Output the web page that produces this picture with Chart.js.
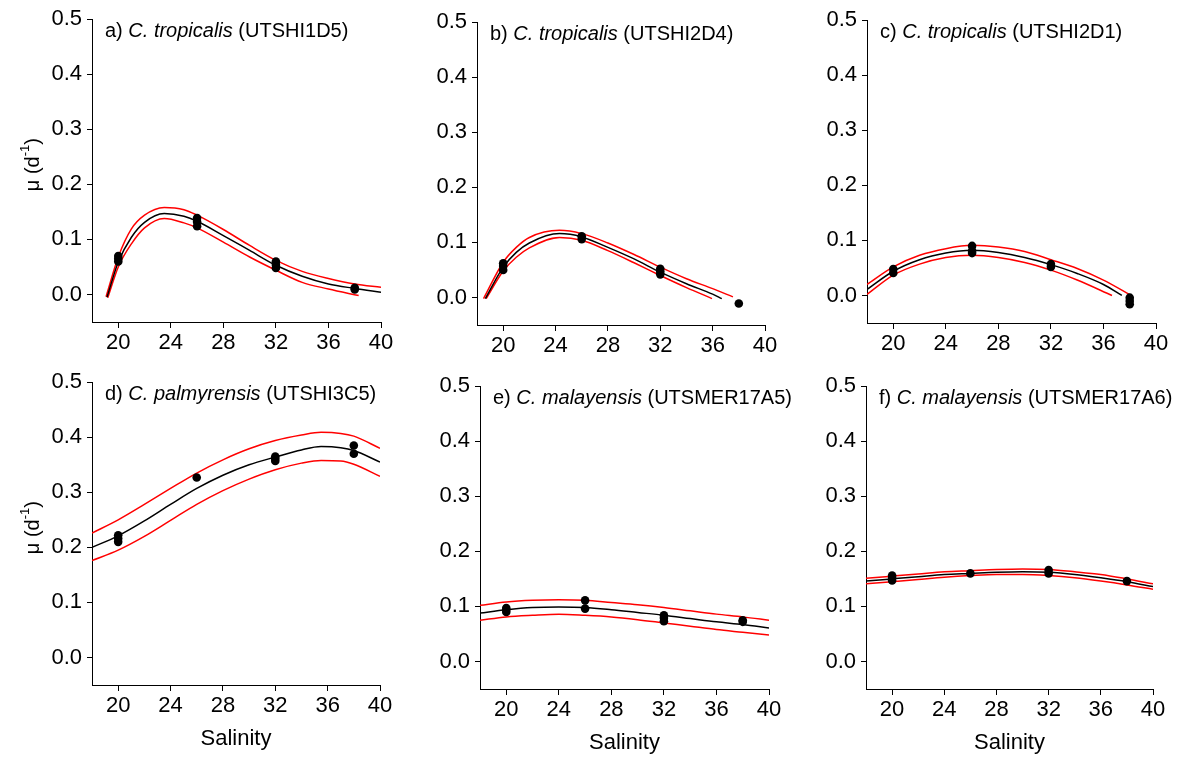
<!DOCTYPE html>
<html lang="en">
<head>
    <meta charset="UTF-8">
    <title>Growth rate vs salinity</title>
    <style>
        html, body {
            margin: 0;
            padding: 0;
            background: #fff;
            overflow: hidden;
        }
        .panel {
            position: absolute;
        }
    </style>
    <script src="https://cdn.jsdelivr.net/npm/chart.js"></script>
</head>
<body>
    <canvas id="panelA" class="panel"></canvas>
    <canvas id="panelB" class="panel"></canvas>
    <canvas id="panelC" class="panel"></canvas>
    <canvas id="panelD" class="panel"></canvas>
    <canvas id="panelE" class="panel"></canvas>
    <canvas id="panelF" class="panel"></canvas>

    <script>
        // Axis ticks (shared by every panel)
        const xTickValues = [20, 24, 28, 32, 36, 40];
        const yTickValues = [0, 0.1, 0.2, 0.3, 0.4, 0.5];

        // Panel labels
        const panelLetters = ['a)', 'b)', 'c)', 'd)', 'e)', 'f)'];
        const speciesNames = ['C. tropicalis', 'C. tropicalis', 'C. tropicalis', 'C. palmyrensis', 'C. malayensis', 'C. malayensis'];
        const strainNames = ['(UTSHI1D5)', '(UTSHI2D4)', '(UTSHI2D1)', '(UTSHI3C5)', '(UTSMER17A5)', '(UTSMER17A6)'];

        // a) UTSHI1D5
        const aFitX = [19.14, 20, 21, 22, 23.5, 25, 26, 28, 30, 32, 34, 36, 38, 40];
        const aFitY = [-0.005, 0.059, 0.104, 0.131, 0.147, 0.142, 0.133, 0.107, 0.080, 0.053, 0.033, 0.019, 0.011, 0.004];
        const aUpperX = [19.07, 20, 21, 22, 23.5, 25, 26, 28, 30, 32, 34, 36, 38, 40];
        const aUpperY = [-0.004, 0.068, 0.119, 0.144, 0.158, 0.154, 0.144, 0.118, 0.089, 0.062, 0.042, 0.029, 0.019, 0.013];
        const aLowerX = [19.2, 20, 21, 22, 23.5, 25, 26, 28, 30, 32, 34, 36, 38.3];
        const aLowerY = [-0.006, 0.050, 0.092, 0.121, 0.138, 0.130, 0.121, 0.095, 0.068, 0.044, 0.022, 0.010, -0.002];
        const aPtX = [20, 20, 20, 26, 26, 26, 32, 32, 32, 38, 38];
        const aPtY = [0.060, 0.065, 0.070, 0.124, 0.132, 0.139, 0.048, 0.054, 0.060, 0.009, 0.012];

        // b) UTSHI2D4
        const bFitX = [18.64, 20, 21, 22, 24.3, 26, 28, 30, 32, 34, 36, 36.7];
        const bFitY = [-0.002, 0.055, 0.082, 0.099, 0.116, 0.110, 0.091, 0.070, 0.046, 0.025, 0.006, -0.002];
        const bUpperX = [18.5, 20, 21, 22, 24.3, 26, 28, 30, 32, 34, 36, 37.55];
        const bUpperY = [-0.002, 0.064, 0.091, 0.109, 0.122, 0.116, 0.099, 0.078, 0.055, 0.034, 0.016, 0.001];
        const bLowerX = [18.7, 20, 21, 22, 24.3, 26, 28, 30, 32, 34, 35.95];
        const bLowerY = [-0.002, 0.048, 0.073, 0.090, 0.109, 0.104, 0.085, 0.063, 0.040, 0.018, -0.002];
        const bPtX = [20, 20, 20, 26, 26, 32, 32, 32, 38];
        const bPtY = [0.050, 0.057, 0.062, 0.106, 0.111, 0.042, 0.047, 0.052, -0.011];

        // c) UTSHI2D1
        const cFitX = [18, 20, 22, 24, 26, 28, 30, 32, 34, 36, 37.4];
        const cFitY = [0.011, 0.044, 0.065, 0.077, 0.082, 0.078, 0.069, 0.056, 0.040, 0.020, 0.000];
        const cUpperX = [18, 20, 22, 24, 26, 28, 30, 32, 34, 36, 38.2];
        const cUpperY = [0.020, 0.052, 0.073, 0.085, 0.091, 0.088, 0.080, 0.065, 0.049, 0.028, -0.001];
        const cLowerX = [18, 20, 22, 24, 26, 28, 30, 32, 34, 36.65];
        const cLowerY = [0.002, 0.037, 0.057, 0.069, 0.073, 0.069, 0.060, 0.046, 0.028, 0.000];
        const cPtX = [20, 20, 26, 26, 26, 32, 32, 38, 38, 38];
        const cPtY = [0.041, 0.048, 0.077, 0.081, 0.090, 0.052, 0.057, -0.004, -0.010, -0.016];

        // d) UTSHI3C5
        const dCurveX = [18, 20, 22, 24, 26, 28, 30, 32, 34, 35.5, 37, 38, 40];
        const dFitY = [0.200, 0.221, 0.248, 0.278, 0.307, 0.331, 0.350, 0.364, 0.377, 0.383, 0.381, 0.376, 0.355];
        const dUpperY = [0.226, 0.250, 0.278, 0.307, 0.335, 0.359, 0.379, 0.394, 0.404, 0.409, 0.407, 0.402, 0.380];
        const dLowerY = [0.176, 0.195, 0.220, 0.249, 0.278, 0.303, 0.324, 0.341, 0.353, 0.358, 0.357, 0.351, 0.329];
        const dPtX = [20, 20, 20, 26, 32, 32, 32, 38, 38];
        const dPtY = [0.210, 0.216, 0.222, 0.327, 0.357, 0.361, 0.365, 0.370, 0.385];

        // e) UTSMER17A5
        const eCurveX = [18, 20, 22, 24, 26, 28, 30, 32, 34, 36, 38, 40];
        const eFitY = [0.088, 0.094, 0.098, 0.099, 0.098, 0.094, 0.089, 0.084, 0.078, 0.072, 0.067, 0.061];
        const eUpperY = [0.102, 0.108, 0.111, 0.112, 0.111, 0.107, 0.103, 0.098, 0.092, 0.086, 0.081, 0.075];
        const eLowerY = [0.075, 0.081, 0.084, 0.086, 0.084, 0.081, 0.076, 0.070, 0.064, 0.058, 0.053, 0.048];
        const ePtX = [20, 20, 20, 26, 26, 32, 32, 32, 38, 38];
        const ePtY = [0.090, 0.094, 0.097, 0.096, 0.111, 0.073, 0.079, 0.084, 0.072, 0.075];

        // f) UTSMER17A6
        const fCurveX = [18, 20, 22, 24, 26, 28, 30, 32, 34, 36, 38, 40];
        const fFitY = [0.146, 0.150, 0.154, 0.158, 0.160, 0.162, 0.163, 0.162, 0.158, 0.152, 0.145, 0.136];
        const fUpperY = [0.151, 0.155, 0.159, 0.163, 0.165, 0.167, 0.168, 0.167, 0.163, 0.158, 0.150, 0.141];
        const fLowerY = [0.141, 0.145, 0.149, 0.153, 0.156, 0.158, 0.158, 0.156, 0.152, 0.146, 0.139, 0.131];
        const fPtX = [20, 20, 20, 26, 32, 32, 38];
        const fPtY = [0.147, 0.152, 0.156, 0.160, 0.160, 0.166, 0.146];

        const FONT = "'Liberation Sans', Arial, sans-serif";
        const Y_AXIS_W = 80, X_AXIS_H = 70, PAD_TOP = 18, PAD_RIGHT = 25;

        function xy(xs, ys) {
            return xs.map((x, i) => ({ x: x, y: ys[i] }));
        }

        // Draws the panel title, y title and x title
        const panelText = {
            id: 'panelText',
            afterDraw(chart, args, opts) {
                const ctx = chart.ctx;
                const area = chart.chartArea;
                ctx.save();
                ctx.fillStyle = '#000';
                ctx.textBaseline = 'middle';
                ctx.textAlign = 'left';

                // panel title with italic species name
                let x = area.left + 13;
                const y = area.top + 12;
                const parts = [
                    [opts.letter + ' ', 'normal'],
                    [opts.species, 'italic'],
                    [' ' + opts.strain, 'normal']
                ];
                parts.forEach(p => {
                    ctx.font = p[1] + ' 20px ' + FONT;
                    ctx.fillText(p[0], x, y);
                    x += ctx.measureText(p[0]).width;
                });

                if (opts.yTitle) {
                    ctx.save();
                    ctx.translate(area.left - 59, (area.top + area.bottom) / 2 - 6);
                    ctx.rotate(-Math.PI / 2);
                    const main = '\u03bc (d';
                    const sup = '-1';
                    const close = ')';
                    ctx.font = '20px ' + FONT;
                    const w1 = ctx.measureText(main).width;
                    const w3 = ctx.measureText(close).width;
                    ctx.font = '13px ' + FONT;
                    const w2 = ctx.measureText(sup).width;
                    let sx = -(w1 + w2 + w3) / 2;
                    ctx.font = '20px ' + FONT;
                    ctx.fillText(main, sx, 0);
                    sx += w1;
                    ctx.font = '13px ' + FONT;
                    ctx.fillText(sup, sx, -8);
                    sx += w2;
                    ctx.font = '20px ' + FONT;
                    ctx.fillText(close, sx, 0);
                    ctx.restore();
                }

                if (opts.xTitle) {
                    ctx.font = '22px ' + FONT;
                    ctx.textAlign = 'center';
                    ctx.fillText('Salinity', (area.left + area.right) / 2, area.bottom + 54);
                }
                ctx.restore();
            }
        };

        const panels = [
            { id: 'panelA', left: 92, top: 19, w: 289, yTitle: true, xTitle: false,
              fit: xy(aFitX, aFitY), upper: xy(aUpperX, aUpperY), lower: xy(aLowerX, aLowerY), pts: xy(aPtX, aPtY) },
            { id: 'panelB', left: 477, top: 22, w: 288, yTitle: false, xTitle: false,
              fit: xy(bFitX, bFitY), upper: xy(bUpperX, bUpperY), lower: xy(bLowerX, bLowerY), pts: xy(bPtX, bPtY) },
            { id: 'panelC', left: 867, top: 20, w: 289, yTitle: false, xTitle: false,
              fit: xy(cFitX, cFitY), upper: xy(cUpperX, cUpperY), lower: xy(cLowerX, cLowerY), pts: xy(cPtX, cPtY) },
            { id: 'panelD', left: 92, top: 382, w: 288, yTitle: true, xTitle: true,
              fit: xy(dCurveX, dFitY), upper: xy(dCurveX, dUpperY), lower: xy(dCurveX, dLowerY), pts: xy(dPtX, dPtY) },
            { id: 'panelE', left: 480, top: 386, w: 289, yTitle: false, xTitle: true,
              fit: xy(eCurveX, eFitY), upper: xy(eCurveX, eUpperY), lower: xy(eCurveX, eLowerY), pts: xy(ePtX, ePtY) },
            { id: 'panelF', left: 866, top: 386, w: 287, yTitle: false, xTitle: true,
              fit: xy(fCurveX, fFitY), upper: xy(fCurveX, fUpperY), lower: xy(fCurveX, fLowerY), pts: xy(fPtX, fPtY) }
        ];

        const PLOT_H = 303;

        panels.forEach((p, i) => {
            const canvas = document.getElementById(p.id);
            canvas.width = Y_AXIS_W + p.w + PAD_RIGHT;
            canvas.height = PAD_TOP + PLOT_H + X_AXIS_H;
            canvas.style.left = (p.left - Y_AXIS_W) + 'px';
            canvas.style.top = (p.top - PAD_TOP) + 'px';

            const lineStyle = (color) => ({
                showLine: true,
                borderColor: color,
                borderWidth: 1.5,
                pointRadius: 0,
                cubicInterpolationMode: 'monotone',
                fill: false
            });

            new Chart(canvas.getContext('2d'), {
                type: 'scatter',
                data: {
                    datasets: [
                        { label: 'Observed', data: p.pts, showLine: false, pointRadius: 4.3,
                          backgroundColor: '#000', borderColor: '#000', borderWidth: 0 },
                        Object.assign({ label: 'Fit', data: p.fit }, lineStyle('#000')),
                        Object.assign({ label: 'Upper', data: p.upper }, lineStyle('#ff0000')),
                        Object.assign({ label: 'Lower', data: p.lower }, lineStyle('#ff0000'))
                    ]
                },
                options: {
                    responsive: false,
                    animation: false,
                    events: [],
                    layout: { padding: { left: 0, top: PAD_TOP, right: PAD_RIGHT, bottom: 0 } },
                    plugins: {
                        legend: { display: false },
                        tooltip: { enabled: false },
                        panelText: {
                            letter: panelLetters[i],
                            species: speciesNames[i],
                            strain: strainNames[i],
                            yTitle: p.yTitle,
                            xTitle: p.xTitle
                        }
                    },
                    scales: {
                        x: {
                            type: 'linear',
                            min: 18,
                            max: 40,
                            afterBuildTicks: (s) => { s.ticks = xTickValues.map(v => ({ value: v })); },
                            afterFit: (s) => { s.height = X_AXIS_H; },
                            grid: { display: true, drawOnChartArea: false, drawTicks: true, tickLength: 6, color: '#000' },
                            border: { display: true, color: '#000', width: 1 },
                            ticks: { color: '#000', font: { family: FONT, size: 22 }, padding: 2, maxRotation: 0 }
                        },
                        y: {
                            type: 'linear',
                            min: -0.05,
                            max: 0.5,
                            afterBuildTicks: (s) => { s.ticks = yTickValues.map(v => ({ value: v })); },
                            afterFit: (s) => { s.width = Y_AXIS_W; },
                            grid: { display: true, drawOnChartArea: false, drawTicks: true, tickLength: 5, color: '#000' },
                            border: { display: true, color: '#000', width: 1 },
                            ticks: {
                                color: '#000',
                                font: { family: FONT, size: 22 },
                                padding: 5,
                                callback: (v) => v.toFixed(1)
                            }
                        }
                    }
                },
                plugins: [panelText]
            });
        });
    </script>
</body>
</html>
